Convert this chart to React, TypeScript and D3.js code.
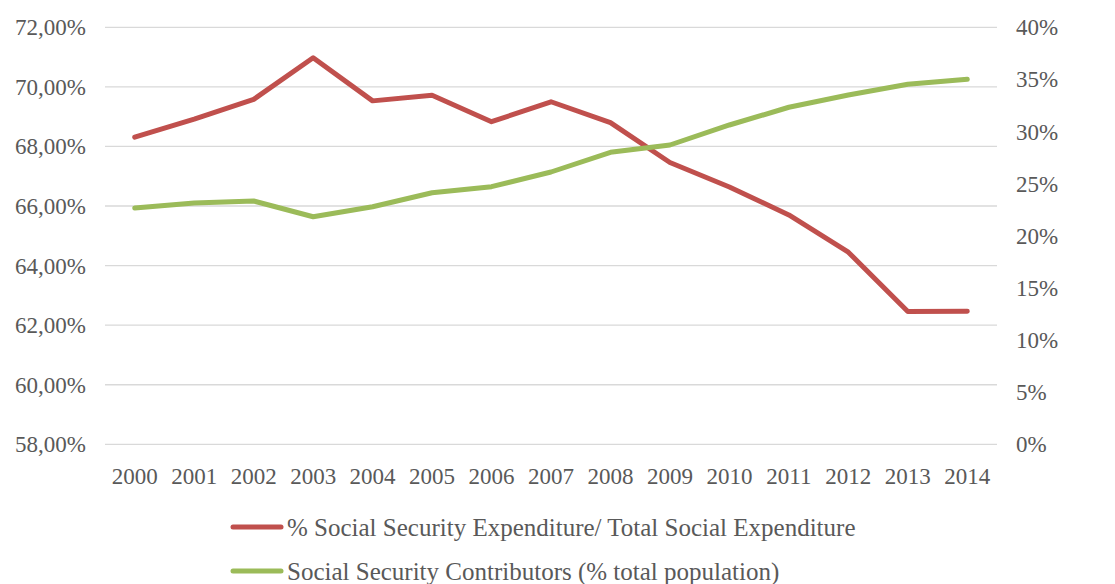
import React from "react";
import * as d3 from "d3";

const years = ["2000","2001","2002","2003","2004","2005","2006","2007","2008","2009","2010","2011","2012","2013","2014"];
const expenditureShare = [68.31, 68.92, 69.58, 70.98, 69.53, 69.72, 68.83, 69.5, 68.8, 67.46, 66.64, 65.7, 64.45, 62.46, 62.47];
const contributors = [22.67, 23.15, 23.34, 21.83, 22.79, 24.13, 24.71, 26.12, 28.01, 28.71, 30.63, 32.33, 33.51, 34.53, 35.01];
const leftTicks = [58, 60, 62, 64, 66, 68, 70, 72];
const rightTicks = [0, 5, 10, 15, 20, 25, 30, 35, 40];
const seriesNames = ["% Social Security Expenditure/ Total Social Expenditure", "Social Security Contributors (% total population)"];

const W = 1115, H = 584;
const M = { left: 105, right: 997, top: 27.3, bottom: 444.3 };
const RED = "#C0504D", GREEN = "#9BBB59", TEXT = "#595959", GRID = "#D9D9D9";
const FONT = "'Liberation Serif', 'DejaVu Serif', serif";

export default function App() {
  const x = d3.scalePoint<string>().domain(years).range([M.left, M.right]).padding(0.5);
  const yL = d3.scaleLinear().domain([58, 72]).range([M.bottom, M.top]);
  const yR = d3.scaleLinear().domain([0, 40]).range([M.bottom, M.top]);
  const lineL = d3.line<number>().x((_, i) => x(years[i])!).y(d => yL(d));
  const lineR = d3.line<number>().x((_, i) => x(years[i])!).y(d => yR(d));
  const fmtL = (v: number) => v.toFixed(2).replace(".", ",") + "%";

  return (
    <div style={{ position: "absolute", left: 0, top: 0 }}>
      <svg width={W} height={H} style={{ display: "block", background: "#fff" }} fontFamily={FONT}>
        {leftTicks.map(t => (
          <line key={t} x1={M.left} x2={M.right} y1={yL(t)} y2={yL(t)} stroke={GRID} strokeWidth={1.3} />
        ))}
        {leftTicks.map(t => (
          <text key={"l" + t} x={86} y={yL(t)} dy="0.35em" textAnchor="end" fontSize={23} fill={TEXT}>{fmtL(t)}</text>
        ))}
        {rightTicks.map(t => (
          <text key={"r" + t} x={1016} y={yR(t)} dy="0.35em" textAnchor="start" fontSize={23} fill={TEXT}>{t}%</text>
        ))}
        {years.map(yr => (
          <text key={yr} x={x(yr)} y={476} dy="0.35em" textAnchor="middle" fontSize={23} fill={TEXT}>{yr}</text>
        ))}
        <path d={lineL(expenditureShare) || ""} fill="none" stroke={RED} strokeWidth={5} strokeLinejoin="round" strokeLinecap="round" />
        <path d={lineR(contributors) || ""} fill="none" stroke={GREEN} strokeWidth={5} strokeLinejoin="round" strokeLinecap="round" />
        {seriesNames.map((name, i) => {
          const ly = 527 + i * 44;
          return (
            <g key={name}>
              <line x1={233} x2={281} y1={ly} y2={ly} stroke={i === 0 ? RED : GREEN} strokeWidth={5} strokeLinecap="round" />
              <text x={287} y={ly} dy="0.35em" fontSize={25} fill={TEXT}>{name}</text>
            </g>
          );
        })}
      </svg>
    </div>
  );
}
